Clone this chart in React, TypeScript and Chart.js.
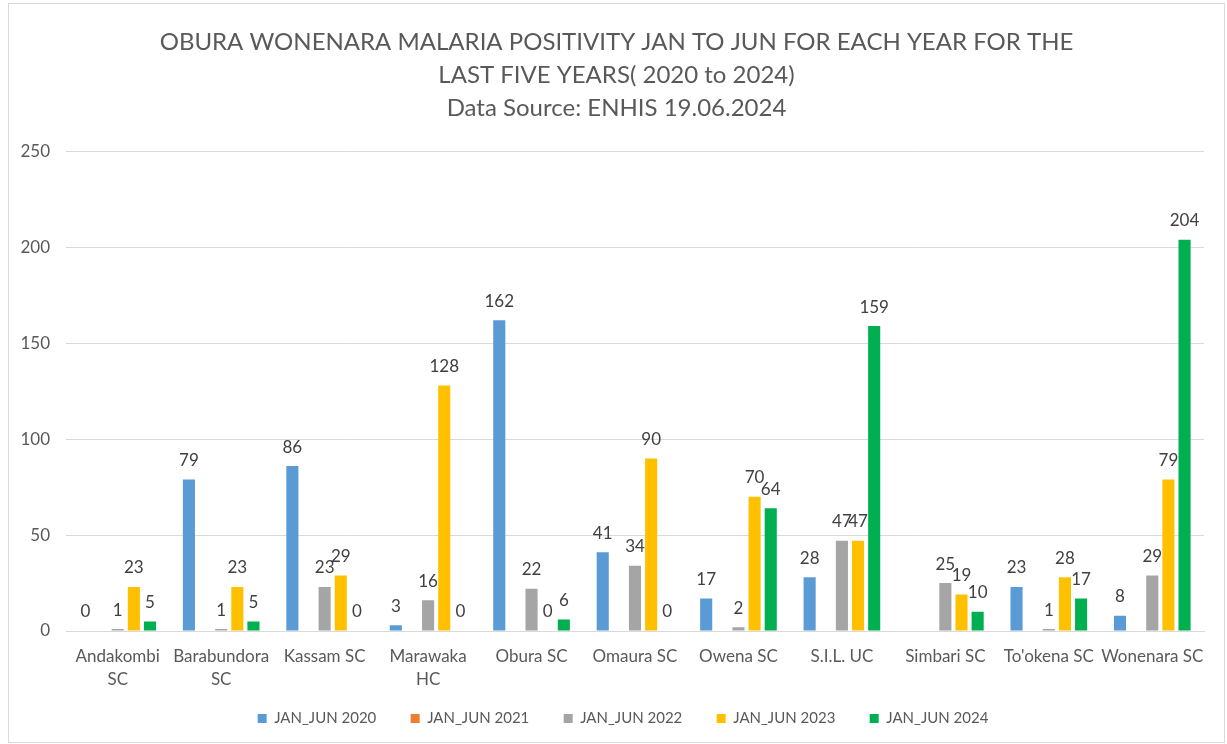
import React, { useEffect, useRef } from "react";
import { Chart, registerables } from "chart.js";

Chart.register(...registerables);

const categories: (string | string[])[] = [
  ["Andakombi", "SC"],
  ["Barabundora", "SC"],
  "Kassam SC",
  ["Marawaka", "HC"],
  "Obura SC",
  "Omaura SC",
  "Owena SC",
  "S.I.L. UC",
  "Simbari SC",
  "To'okena SC",
  "Wonenara SC",
];

const seriesNames = ["JAN_JUN 2020", "JAN_JUN 2021", "JAN_JUN 2022", "JAN_JUN 2023", "JAN_JUN 2024"];

const jan2020: (number | null)[] = [0, 79, 86, 3, 162, 41, 17, 28, null, 23, 8];
const jan2021: (number | null)[] = [null, null, null, null, null, null, null, null, null, null, null];
const jan2022: (number | null)[] = [1, 1, 23, 16, 22, 34, 2, 47, 25, 1, 29];
const jan2023: (number | null)[] = [23, 23, 29, 128, 0, 90, 70, 47, 19, 28, 79];
const jan2024: (number | null)[] = [5, 5, 0, 0, 6, 0, 64, 159, 10, 17, 204];

const yTicks = [0, 50, 100, 150, 200, 250];

const titleLines = [
  "OBURA WONENARA MALARIA POSITIVITY JAN TO JUN FOR EACH YEAR FOR THE",
  "LAST FIVE YEARS( 2020 to 2024)",
  "Data Source: ENHIS 19.06.2024",
];

const colors = ["#5B9BD5", "#ED7D31", "#A5A5A5", "#FFC000", "#00B050"];

const FONT = "Lato";

const dataLabelPlugin = {
  id: "dataLabels",
  afterLayout(chart: any) {
    if (chart.legend) {
      chart.legend.left += 6.5;
      chart.legend.right += 6.5;
    }
  },
  afterDatasetsDraw(chart: any) {
    const ctx = chart.ctx;
    ctx.save();
    ctx.font = `17px ${FONT}`;
    ctx.fillStyle = "#404040";
    ctx.textAlign = "center";
    ctx.textBaseline = "middle";
    chart.data.datasets.forEach((ds: any, i: number) => {
      const meta = chart.getDatasetMeta(i);
      meta.data.forEach((el: any, j: number) => {
        const v = ds.data[j];
        if (v === null || v === undefined) return;
        ctx.fillText(String(v), el.x, el.y - 19);
      });
    });
    ctx.restore();
  },
};

export default function App() {
  const ref = useRef<HTMLCanvasElement>(null);
  useEffect(() => {
    document.body.style.overflow = "hidden";
    const all = [jan2020, jan2021, jan2022, jan2023, jan2024];
    const defaultGen = Chart.defaults.plugins.legend.labels.generateLabels;
    const chart = new Chart(ref.current as HTMLCanvasElement, {
      type: "bar",
      data: {
        labels: categories,
        datasets: all.map((d, i) => ({
          label: seriesNames[i],
          data: d,
          backgroundColor: colors[i],
          borderWidth: 0,
          categoryPercentage: 0.78,
          barPercentage: 0.75,
        })),
      },
      options: {
        responsive: false,
        animation: false,
        layout: { padding: { top: 11, bottom: 6, left: 0, right: 0 } },
        plugins: {
          title: {
            display: true,
            text: titleLines,
            color: "#595959",
            font: { family: FONT, size: 24, weight: "normal", lineHeight: 1.375 },
            padding: { top: 10.5, bottom: 27 },
          },
          legend: {
            position: "bottom",
            labels: {
              boxWidth: 9,
              boxHeight: 9,
              color: "#595959",
              font: { family: FONT, size: 15 },
              padding: 19,
              generateLabels: (c: any) => {
                const items = defaultGen(c);
                return items.map((it: any, i: number) => ({
                  ...it,
                  text: i < items.length - 1 ? it.text + "    " : it.text,
                }));
              },
            },
          },
          tooltip: { enabled: false },
        },
        scales: {
          x: {
            grid: { display: false, drawTicks: false },
            border: { display: true, color: "#d9d9d9", width: 1 },
            ticks: {
              color: "#595959",
              font: { family: FONT, size: 17, lineHeight: 1.35 },
              padding: 14,
              maxRotation: 0,
              autoSkip: false,
            },
            afterFit: (s: any) => {
              s.height = 61;
            },
          },
          y: {
            min: 0,
            max: 250,
            afterBuildTicks: (s: any) => {
              s.ticks = yTicks.map((v) => ({ value: v }));
            },
            grid: { color: "#d9d9d9", drawTicks: false },
            border: { display: false },
            ticks: {
              color: "#595959",
              font: { family: FONT, size: 17 },
              padding: 16,
            },
            afterFit: (s: any) => {
              s.width = 57;
            },
          },
          yRight: {
            position: "right",
            min: 0,
            max: 250,
            grid: { display: false, drawTicks: false },
            border: { display: false },
            ticks: { display: false },
            afterFit: (s: any) => {
              s.width = 20;
            },
          },
        },
      },
      plugins: [dataLabelPlugin],
    });
    return () => chart.destroy();
  }, []);
  return (
    <div
      style={{
        position: "absolute",
        left: 8,
        top: 3,
        width: 1217,
        height: 740,
        boxSizing: "border-box",
        border: "1px solid #d9d9d9",
        background: "#fff",
      }}
    >
      <canvas ref={ref} width={1215} height={738} style={{ display: "block" }} />
    </div>
  );
}
